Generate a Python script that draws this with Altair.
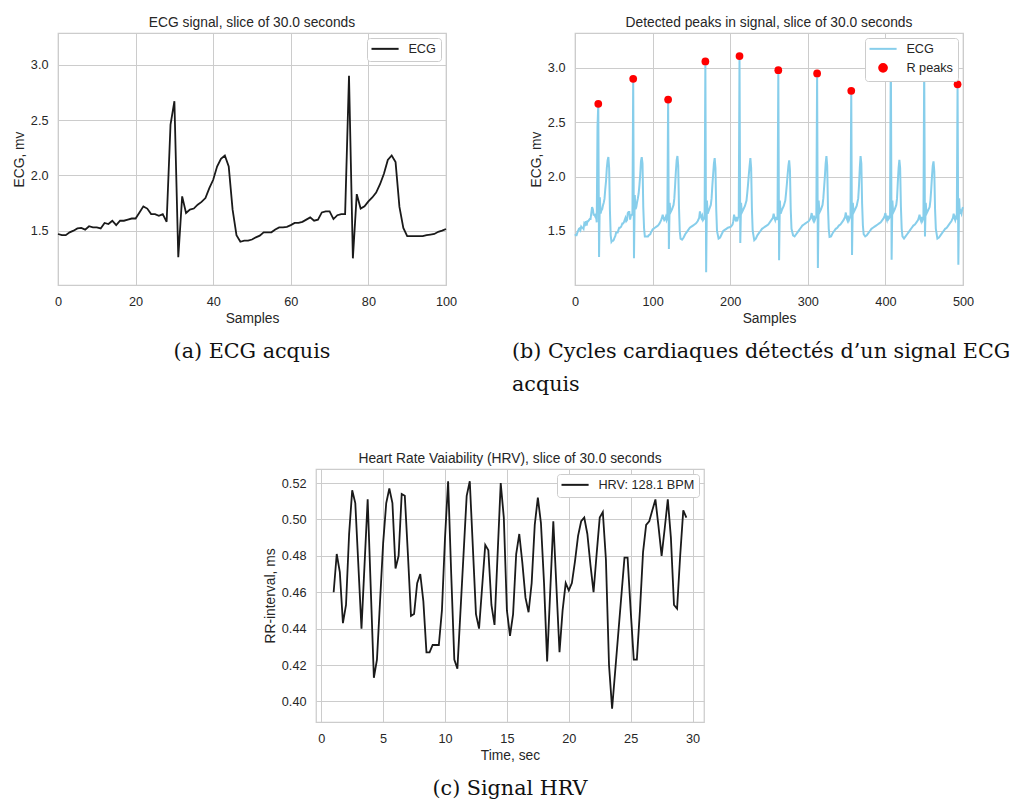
import altair as alt
import pandas as pd

FONT = "Liberation Sans"
SERIF = "DejaVu Serif"
TXT = "#262626"
GRID = "#cccccc"

# ---------------- data ----------------
# ECG, samples 0..100 (panel a, and start of panel b)
ecg_head = [1.47, 1.46, 1.46, 1.485, 1.50, 1.52, 1.525, 1.51, 1.54, 1.53,
            1.53, 1.52, 1.57, 1.56, 1.59, 1.55, 1.59, 1.59, 1.60, 1.61,
            1.61, 1.665, 1.72, 1.70, 1.65, 1.65, 1.635, 1.65, 1.58, 2.46,
            2.67, 1.26, 1.81, 1.66, 1.69, 1.70, 1.735, 1.76, 1.795, 1.885,
            1.96, 2.08, 2.15, 2.18, 2.08, 1.69, 1.46, 1.40, 1.41, 1.41,
            1.42, 1.44, 1.455, 1.485, 1.485, 1.485, 1.51, 1.53, 1.53, 1.535,
            1.55, 1.57, 1.57, 1.58, 1.60, 1.62, 1.59, 1.60, 1.665, 1.675,
            1.675, 1.605, 1.64, 1.65, 1.65, 2.90, 1.25, 1.83, 1.70, 1.72,
            1.765, 1.80, 1.845, 1.92, 2.015, 2.14, 2.18, 2.12, 1.715, 1.525,
            1.45, 1.45, 1.45, 1.45, 1.45, 1.46, 1.465, 1.47, 1.49, 1.50, 1.515]

# ECG after sample 100 (panel b), read as vertices (sample, mV)
ecg_tail_x = [101, 103, 105, 107, 109, 111, 112, 113, 114, 115, 116, 117, 118, 119,
              120, 121, 122, 123, 125, 127, 128, 129, 130, 131, 132, 133, 134, 135, 136,
              138, 140, 142, 144, 146, 148, 150, 152, 154, 156, 158, 160, 161, 162, 163,
              164, 165, 166, 167,
              168, 169, 170, 171, 173, 175, 176, 177, 178, 179, 180, 181, 182, 183, 185,
              187, 189, 191, 193, 195, 197, 199, 201, 203, 204, 205, 206, 207, 208, 209,
              210, 211,
              212, 213, 214, 215, 217, 219, 221, 222, 223, 224, 225, 226, 227, 228, 229,
              231, 233, 235, 237, 239, 241, 243, 245, 247, 249, 251, 253, 255, 256, 257,
              258, 259, 260, 261,
              262, 263, 264, 265, 267, 269, 271, 272, 273, 274, 275, 276, 277, 278, 279,
              281, 283, 285, 287, 289, 291, 293, 295, 297, 299, 301, 303, 304, 305, 306,
              307, 308, 309, 310, 311,
              312, 313, 314, 315, 317, 319, 320, 321, 322, 323, 324, 325, 326, 327, 328,
              330, 332, 334, 336, 338, 340, 342, 344, 346, 348, 349, 350, 351, 352, 353,
              354, 355,
              356, 357, 358, 359, 361, 363, 365, 366, 367, 368, 369, 370, 371, 372, 374,
              376, 378, 380, 382, 384, 386, 388, 390, 392, 394, 396, 398, 399, 400, 401,
              402, 403, 404, 405, 406,
              407, 408, 409, 410, 412, 414, 415, 416, 417, 418, 419, 420, 421, 422, 424,
              426, 428, 430, 432, 434, 436, 438, 440, 442, 443, 444, 445, 446, 447, 448,
              449,
              450, 451, 452, 453, 455, 457, 458, 459, 460, 461, 462, 463, 464, 465, 467,
              469, 471, 473, 475, 477, 479, 481, 483, 485, 487, 488, 489, 490, 491, 492,
              493, 494, 495, 496, 497, 498, 499, 500]
ecg_tail_y = [1.52, 1.53, 1.54, 1.55, 1.57, 1.60, 1.62, 1.65, 1.62, 1.60, 1.61, 1.63, 1.60, 1.62,
              2.71, 1.335, 1.76, 1.67, 1.70, 1.74, 1.80, 1.92, 2.05, 2.15, 2.19, 2.10, 1.72, 1.50, 1.43,
              1.42, 1.44, 1.47, 1.49, 1.51, 1.53, 1.54, 1.55, 1.56, 1.57, 1.59, 1.62, 1.68, 1.64, 1.62,
              1.64, 1.60, 1.61, 1.62,
              3.06, 1.12, 1.78, 1.66, 1.70, 1.74, 1.80, 1.92, 2.02, 2.12, 2.17, 2.08, 1.70, 1.50, 1.43,
              1.44, 1.47, 1.50, 1.51, 1.52, 1.53, 1.535, 1.54, 1.56, 1.59, 1.65, 1.61, 1.60, 1.63, 1.59,
              1.62, 1.63,
              3.11, 1.39, 1.76, 1.67, 1.70, 1.73, 1.78, 1.85, 1.93, 2.02, 2.10, 2.17, 2.08, 1.70, 1.50,
              1.415, 1.43, 1.46, 1.48, 1.50, 1.52, 1.53, 1.54, 1.55, 1.56, 1.58, 1.60, 1.62, 1.66, 1.62,
              1.60, 1.63, 1.60, 1.63,
              2.98, 1.23, 1.78, 1.66, 1.70, 1.73, 1.78, 1.85, 1.93, 2.02, 2.10, 2.15, 2.06, 1.70, 1.52,
              1.46, 1.45, 1.47, 1.49, 1.51, 1.53, 1.55, 1.56, 1.57, 1.58, 1.59, 1.61, 1.63, 1.665, 1.62,
              1.60, 1.64, 1.60, 1.62, 1.63,
              2.95, 1.16, 1.78, 1.67, 1.70, 1.74, 1.80, 1.90, 2.00, 2.12, 2.19, 2.10, 1.72, 1.52, 1.445,
              1.45, 1.48, 1.50, 1.52, 1.53, 1.55, 1.56, 1.58, 1.60, 1.63, 1.67, 1.62, 1.60, 1.64, 1.60,
              1.62, 1.63,
              2.79, 1.28, 1.76, 1.67, 1.70, 1.73, 1.80, 1.92, 2.08, 2.19, 2.12, 1.75, 1.55, 1.47, 1.45,
              1.46, 1.48, 1.50, 1.52, 1.53, 1.54, 1.55, 1.56, 1.57, 1.58, 1.60, 1.62, 1.64, 1.665, 1.62,
              1.60, 1.64, 1.61, 1.62, 1.64,
              3.20, 1.235, 1.78, 1.67, 1.70, 1.74, 1.80, 1.95, 2.08, 2.155, 2.08, 1.72, 1.52, 1.45, 1.43,
              1.45, 1.47, 1.49, 1.51, 1.53, 1.55, 1.56, 1.58, 1.60, 1.62, 1.65, 1.61, 1.59, 1.63, 1.60,
              1.62,
              3.02, 1.45, 1.76, 1.66, 1.69, 1.72, 1.78, 1.88, 2.00, 2.10, 2.14, 2.05, 1.70, 1.52, 1.43,
              1.44, 1.46, 1.48, 1.50, 1.52, 1.53, 1.55, 1.57, 1.59, 1.62, 1.66, 1.62, 1.60, 1.63, 1.62,
              2.85, 1.19, 1.80, 1.66, 1.68, 1.66, 1.70, 1.72]

# detected R peaks (panel b)
peak_x = [30, 75, 120, 168, 212, 262, 312, 356, 407, 450, 493]
peak_y = [2.67, 2.90, 2.71, 3.06, 3.11, 2.98, 2.95, 2.79, 3.20, 3.02, 2.85]

# HRV, RR-interval vs time (panel c)
hrv_t = [1.0, 1.25, 1.5, 1.75, 2.0, 2.25, 2.5, 2.75, 3.25, 3.75, 4.25, 4.5, 4.75, 5.0,
         5.25, 5.5, 5.75, 6.0, 6.25, 6.5, 6.75, 7.0, 7.25, 7.5, 7.75, 8.0, 8.25, 8.5,
         8.75, 9.0, 9.25, 9.5, 9.75, 10.0, 10.25, 10.5, 10.75, 11.0, 11.75, 12.0, 12.5,
         12.75, 13.25, 13.5, 13.75, 14.0, 14.5, 14.75, 15.0, 15.25, 15.5, 15.75, 16.0,
         16.25, 16.5, 16.75, 17.0, 17.25, 17.5, 17.75, 18.0, 18.25, 18.75, 19.25, 19.5,
         19.75, 20.0, 20.25, 20.5, 20.75, 21.0, 21.25, 21.5, 21.75, 22.0, 22.25, 22.5,
         22.75, 23.0, 23.25, 23.5, 24.5, 24.75, 25.0, 25.25, 25.5, 25.75, 26.0, 26.25,
         26.5, 26.75, 27.0, 27.25, 27.5, 27.75, 28.0, 28.25, 28.5, 28.75, 29.0, 29.25, 29.5]
hrv_v = [0.460, 0.481, 0.471, 0.443, 0.453, 0.492, 0.516, 0.509, 0.440, 0.511, 0.413, 0.423,
         0.455, 0.487, 0.509, 0.517, 0.509, 0.473, 0.480, 0.514, 0.513, 0.481, 0.447, 0.448,
         0.465, 0.470, 0.455, 0.427, 0.427, 0.431, 0.431, 0.431, 0.450, 0.490, 0.521, 0.470,
         0.423, 0.418, 0.513, 0.521, 0.448, 0.440, 0.486, 0.483, 0.453, 0.442, 0.520, 0.501,
         0.450, 0.436, 0.448, 0.481, 0.492, 0.476, 0.457, 0.449, 0.465, 0.497, 0.512, 0.498,
         0.465, 0.422, 0.499, 0.427, 0.450, 0.465, 0.461, 0.465, 0.477, 0.491, 0.499, 0.501,
         0.492, 0.475, 0.460, 0.481, 0.501, 0.504, 0.478, 0.420, 0.396, 0.479, 0.479, 0.450,
         0.423, 0.423, 0.450, 0.482, 0.497, 0.499, 0.505, 0.511, 0.496, 0.480, 0.495, 0.511,
         0.490, 0.453, 0.451, 0.480, 0.505, 0.501]

titles = ["ECG signal, slice of 30.0 seconds",
          "Detected peaks in signal, slice of 30.0 seconds",
          "Heart Rate Vaiability (HRV), slice of 30.0 seconds"]
captions = ["(a)  ECG acquis",
            ["(b) Cycles cardiaques détectés d’un signal ECG", "acquis"],
            "(c) Signal HRV"]
legend_labels = ["ECG", "R peaks", "HRV: 128.1 BPM"]

# ---------------- helpers ----------------
W, H = 388, 252
LINE_SYMBOL = "M-3.5,0H3.5"
INDEP = dict(x="independent", y="independent", color="independent", shape="independent")


def ax(title, values, fmt):
    return alt.Axis(title=title, values=values, format=fmt, grid=True, ticks=False,
                    tickSize=0, domain=False, labelPadding=10, titlePadding=4,
                    labelFlush=False, labelOverlap=False)


def ttl(text):
    return alt.TitleParams(text=text, font=FONT, fontSize=13.8, color=TXT,
                           fontWeight="normal", offset=3, anchor="middle")


def leg(offset=5.0, row_pad=3.0):
    return alt.Legend(title=None, orient="top-right", offset=offset, symbolType=LINE_SYMBOL,
                      symbolSize=60, symbolStrokeWidth=2, symbolOffset=7.2, labelOffset=17,
                      padding=4.5, rowPadding=row_pad, fillColor="white", strokeColor=GRID,
                      cornerRadius=3, labelFont=FONT, labelFontSize=12.7, labelColor=TXT)


def caption(text, x, y, align):
    return alt.Chart(pd.DataFrame({"k": [0]})).mark_text(
        font=SERIF, fontSize=20.7, color="#111111", align=align, baseline="alphabetic",
        lineHeight=33).encode(text=alt.value(text), x=alt.value(x), y=alt.value(y))


# ---------------- panel a ----------------
dfa = pd.DataFrame({"Samples": list(range(101)), "ECG": ecg_head, "series": legend_labels[0]})
line_a = alt.Chart(dfa).mark_line(strokeWidth=1.8).encode(
    x=alt.X("Samples:Q", scale=alt.Scale(domain=[0, 100], nice=False, zero=False),
            axis=ax("Samples", [0, 20, 40, 60, 80, 100], "d")),
    y=alt.Y("ECG:Q", scale=alt.Scale(domain=[1.009, 3.287], nice=False, zero=False),
            axis=ax("ECG, mv", [1.5, 2.0, 2.5, 3.0], ".1f")),
    color=alt.Color("series:N", scale=alt.Scale(domain=[legend_labels[0]], range=["#1a1a1a"]),
                    legend=leg()),
)
chart_a = alt.layer(line_a, caption(captions[0], W / 2, 325, "center")).properties(
    width=W, height=H, title=ttl(titles[0]))

# ---------------- panel b ----------------
dfb = pd.DataFrame({"Samples": list(range(101)) + ecg_tail_x,
                    "ECG": ecg_head + ecg_tail_y, "series": legend_labels[0]})
dfp = pd.DataFrame({"Samples": peak_x, "ECG": peak_y, "series": legend_labels[1]})
xb = alt.X("Samples:Q", scale=alt.Scale(domain=[0, 500], nice=False, zero=False),
           axis=ax("Samples", [0, 100, 200, 300, 400, 500], "d"))
yb = alt.Y("ECG:Q", scale=alt.Scale(domain=[1.003, 3.322], nice=False, zero=False),
           axis=ax("ECG, mv", [1.5, 2.0, 2.5, 3.0], ".1f"))
dom_b = legend_labels[:2]
leg_b = leg(5.0, 3.0)
cscale_b = alt.Scale(domain=dom_b, range=["#87ceeb", "#ff0000"])
line_b = alt.Chart(dfb).mark_line(strokeWidth=2).encode(
    x=xb, y=yb, color=alt.Color("series:N", scale=cscale_b, legend=leg_b))
pts_b = alt.Chart(dfp).mark_point(filled=True, opacity=1, size=60).encode(
    x=xb, y=yb,
    color=alt.Color("series:N", scale=cscale_b, legend=leg_b),
    shape=alt.Shape("series:N", scale=alt.Scale(domain=dom_b, range=[LINE_SYMBOL, "circle"]),
                    legend=leg_b),
)
chart_b = alt.layer(line_b, pts_b, caption(captions[1], -63, 325, "left")).properties(
    width=W, height=H, title=ttl(titles[1]))

# ---------------- spacer (positions panel c) ----------------
spacer = alt.Chart(pd.DataFrame({"v": [0]})).mark_point(opacity=0).encode(
    x=alt.value(60), y=alt.value(10)
).properties(width=129, height=20, view=alt.ViewBackground(stroke="transparent"))

# ---------------- panel c ----------------
dfc = pd.DataFrame({"t": hrv_t, "rr": hrv_v, "series": legend_labels[2]})
line_c = alt.Chart(dfc).mark_line(strokeWidth=1.8).encode(
    x=alt.X("t:Q", scale=alt.Scale(domain=[-0.425, 30.925], nice=False, zero=False),
            axis=ax("Time, sec", [0, 5, 10, 15, 20, 25, 30], "d")),
    y=alt.Y("rr:Q", scale=alt.Scale(domain=[0.3887, 0.5277], nice=False, zero=False),
            axis=ax("RR-interval, ms", [0.40, 0.42, 0.44, 0.46, 0.48, 0.50, 0.52], ".2f")),
    color=alt.Color("series:N", scale=alt.Scale(domain=[legend_labels[2]], range=["#1a1a1a"]),
                    legend=leg()),
)
chart_c = alt.layer(line_c, caption(captions[2], W / 2, 326, "center")).properties(
    width=W, height=253, title=ttl(titles[2]))

row1 = alt.hconcat(chart_a, chart_b, spacing=129, bounds="flush").resolve_scale(**INDEP)
row2 = alt.hconcat(spacer, chart_c, spacing=129, bounds="flush").resolve_scale(**INDEP)

chart = alt.vconcat(row1, row2, spacing=55).resolve_scale(**INDEP
).properties(padding={"left": 3, "top": 7, "right": 0, "bottom": 2}
).configure(background="white"
).configure_view(stroke=GRID, strokeWidth=1.25
).configure_axis(gridColor=GRID, gridWidth=1, labelFont=FONT, titleFont=FONT,
                 labelFontSize=12.7, titleFontSize=13.8, labelColor=TXT, titleColor=TXT,
                 titleFontWeight="normal")

chart.save("out.html", embed_options={"renderer": "svg", "actions": False})
